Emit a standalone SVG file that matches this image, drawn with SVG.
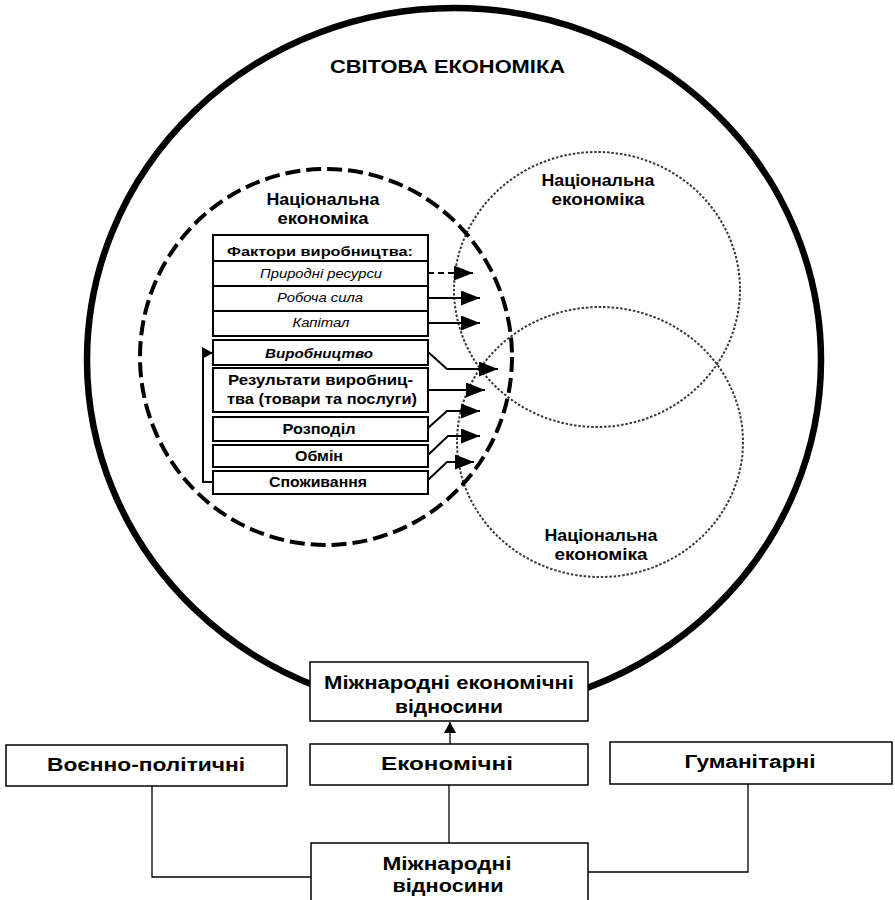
<svg xmlns="http://www.w3.org/2000/svg" width="895" height="900" viewBox="0 0 895 900">
  <style>
    text { font-family: "Liberation Sans", Arial, sans-serif; fill: #000; text-anchor: middle; }
    .b { font-weight: bold; }
    .it { font-style: italic; }
    .box { fill: #fff; stroke: #000; stroke-width: 2; }
    .obox { fill: #fff; stroke: #000; stroke-width: 1.5; }
    .world { fill: none; stroke: #000; stroke-width: 6.5; }
    .nat { fill: none; stroke: #000; stroke-width: 4; stroke-dasharray: 15 6; }
    .other { fill: none; stroke: #3a3a3a; stroke-width: 2; stroke-dasharray: 2.5 1.8; }
    .flow { fill: none; stroke: #000; stroke-width: 2; }
    .thin { fill: none; stroke: #000; stroke-width: 1.3; }
  </style>
  <defs>
    <marker id="ah" viewBox="0 0 19 15" refX="19" refY="7.5" markerWidth="19" markerHeight="15" markerUnits="userSpaceOnUse" orient="auto">
      <path d="M0,0 L19,7.5 L0,15 z" fill="#000"/>
    </marker>
    <marker id="ahs" viewBox="0 0 11 12" refX="11" refY="6" markerWidth="11" markerHeight="12" markerUnits="userSpaceOnUse" orient="auto">
      <path d="M0,0 L11,6 L0,12 z" fill="#000"/>
    </marker>
  </defs>

  <!-- world economy -->
  <g id="world-economy">
    <ellipse class="world" cx="454" cy="360" rx="367" ry="352"/>
    <text class="b" x="447.5" y="73" font-size="18" textLength="235" lengthAdjust="spacingAndGlyphs">СВІТОВА ЕКОНОМІКА</text>
  </g>

  <!-- other national economies -->
  <g id="national-economy-2">
    <ellipse class="other" cx="597" cy="289.5" rx="143" ry="137.5"/>
    <text class="b" x="598" y="186" font-size="16.5" textLength="113" lengthAdjust="spacingAndGlyphs">Національна</text>
    <text class="b" x="598" y="205" font-size="16.5" textLength="93" lengthAdjust="spacingAndGlyphs">економіка</text>
  </g>
  <g id="national-economy-3">
    <ellipse class="other" cx="600" cy="442" rx="143" ry="135"/>
    <text class="b" x="601" y="541" font-size="16.5" textLength="113" lengthAdjust="spacingAndGlyphs">Національна</text>
    <text class="b" x="601" y="560" font-size="16.5" textLength="93" lengthAdjust="spacingAndGlyphs">економіка</text>
  </g>

  <!-- national economy in detail -->
  <g id="national-economy-1">
    <ellipse class="nat" cx="326" cy="357" rx="186" ry="188"/>
    <text class="b" x="323" y="205" font-size="16.5" textLength="113" lengthAdjust="spacingAndGlyphs">Національна</text>
    <text class="b" x="323" y="224" font-size="16.5" textLength="91" lengthAdjust="spacingAndGlyphs">економіка</text>
  </g>

  <g id="factors">
    <rect class="box" x="213" y="235" width="215" height="101"/>
    <path class="flow" d="M213,261 H428 M213,286 H428 M213,311 H428"/>
    <text class="b" x="320" y="256" font-size="13.5" textLength="186" lengthAdjust="spacingAndGlyphs">Фактори виробництва:</text>
    <text class="it" x="321" y="278" font-size="12.5" textLength="122" lengthAdjust="spacingAndGlyphs">Природні ресурси</text>
    <text class="it" x="320" y="302" font-size="12.5" textLength="86" lengthAdjust="spacingAndGlyphs">Робоча сила</text>
    <text class="it" x="321" y="327" font-size="12.5" textLength="57" lengthAdjust="spacingAndGlyphs">Капітал</text>
  </g>
  <g id="production">
    <rect class="box" x="213" y="340" width="215" height="25"/>
    <text class="b it" x="319" y="358" font-size="13.5" textLength="108" lengthAdjust="spacingAndGlyphs">Виробництво</text>
  </g>
  <g id="results">
    <rect class="box" x="213" y="368" width="215" height="44"/>
    <text class="b" x="320.5" y="385" font-size="14" textLength="185" lengthAdjust="spacingAndGlyphs">Результати виробниц-</text>
    <text class="b" x="322" y="404" font-size="14" textLength="190" lengthAdjust="spacingAndGlyphs">тва (товари та послуги)</text>
  </g>
  <g id="distribution">
    <rect class="box" x="213" y="417" width="215" height="24"/>
    <text class="b" x="319" y="434" font-size="14" textLength="73" lengthAdjust="spacingAndGlyphs">Розподіл</text>
  </g>
  <g id="exchange">
    <rect class="box" x="213" y="445" width="215" height="22"/>
    <text class="b" x="319" y="461" font-size="14" textLength="48" lengthAdjust="spacingAndGlyphs">Обмін</text>
  </g>
  <g id="consumption">
    <rect class="box" x="213" y="471" width="215" height="23"/>
    <text class="b" x="318" y="487" font-size="14" textLength="98" lengthAdjust="spacingAndGlyphs">Споживання</text>
  </g>

  <!-- bottom: relations -->
  <g id="intl-economic-relations">
    <rect class="obox" x="310" y="662" width="278" height="59"/>
    <text class="b" x="449" y="689" font-size="17.5" textLength="250" lengthAdjust="spacingAndGlyphs">Міжнародні економічні</text>
    <text class="b" x="449" y="713" font-size="17.5" textLength="108" lengthAdjust="spacingAndGlyphs">відносини</text>
  </g>
  <g id="military-political">
    <rect class="obox" x="6" y="745" width="281" height="41"/>
    <text class="b" x="146" y="771" font-size="17.5" textLength="198" lengthAdjust="spacingAndGlyphs">Воєнно-політичні</text>
  </g>
  <g id="economic">
    <rect class="obox" x="310" y="744" width="278" height="41"/>
    <text class="b" x="447" y="770" font-size="17.5" textLength="132" lengthAdjust="spacingAndGlyphs">Економічні</text>
  </g>
  <g id="humanitarian">
    <rect class="obox" x="610" y="742" width="282" height="42"/>
    <text class="b" x="750" y="768" font-size="17.5" textLength="131" lengthAdjust="spacingAndGlyphs">Гуманітарні</text>
  </g>
  <g id="intl-relations">
    <rect class="obox" x="311" y="843" width="277" height="70"/>
    <text class="b" x="447" y="870" font-size="17.5" textLength="129" lengthAdjust="spacingAndGlyphs">Міжнародні</text>
    <text class="b" x="448" y="892" font-size="17.5" textLength="111" lengthAdjust="spacingAndGlyphs">відносини</text>
  </g>

  <!-- connectors -->
  <g id="connectors">
    <path class="flow" d="M428,273 H473" stroke-dasharray="6 4" marker-end="url(#ah)"/>
    <path class="flow" d="M428,298 H480" marker-end="url(#ah)"/>
    <path class="flow" d="M428,323 H480" marker-end="url(#ah)"/>
    <path class="flow" d="M428,352 L447,369 H498" marker-end="url(#ah)"/>
    <path class="flow" d="M428,390 H485" marker-end="url(#ah)"/>
    <path class="flow" d="M428,428 L447,411 H480" marker-end="url(#ah)"/>
    <path class="flow" d="M428,455 L448,436 H480" marker-end="url(#ah)"/>
    <path class="flow" d="M428,480 L447,462 H474" marker-end="url(#ah)"/>
    <path class="flow" d="M213,482 H203 V353 H213" marker-end="url(#ahs)"/>
    <path class="thin" d="M450,744 V722" marker-end="url(#ahs)"/>
    <path class="thin" d="M152,786 V877 H311"/>
    <path class="thin" d="M449,785 V843"/>
    <path class="thin" d="M748,784 V872 H588"/>
  </g>
</svg>
